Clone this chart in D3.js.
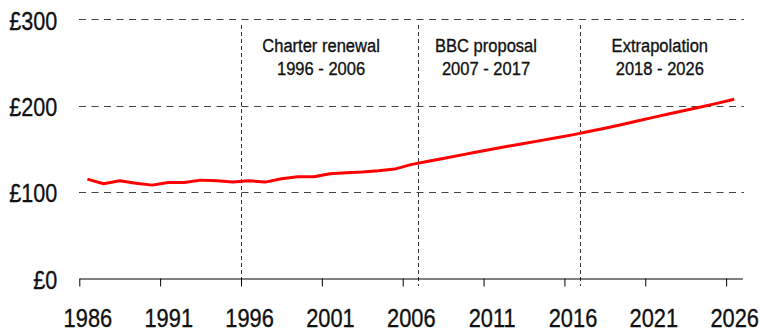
<!DOCTYPE html>
<html>
<head>
<meta charset="utf-8">
<script src="https://cdn.jsdelivr.net/npm/d3@7"></script>
<style>
  html, body { margin: 0; padding: 0; background: #fff; }
  svg { display: block; }
  text { font-family: "Liberation Sans", Arial, sans-serif; fill: #111; stroke: #111; stroke-width: 0.35px; }
</style>
</head>
<body>
<svg id="chart" width="760" height="333"></svg>
<script>
// ---- data ----
const years = d3.range(1986, 2027);
const fee = [
  114.7, 109.3, 112.7, 110.0, 107.7, 110.8, 110.8, 113.5, 112.7, 111.2,
  112.7, 111.2, 115.0, 117.3, 117.3, 120.8, 122.0, 122.8, 124.3, 126.3,
  131.5, 135.0, 138.6, 142.2, 145.8, 149.3, 152.7, 156.0, 159.3, 162.6,
  166.0, 169.8, 173.7, 177.8, 182.0, 186.3, 190.5, 194.5, 198.5, 202.8,
  207.3
];
const xTickYears = [1986, 1991, 1996, 2001, 2006, 2011, 2016, 2021, 2026];
const yTicks = [0, 100, 200, 300];
const gridValues = [100, 200, 300];
const dividerYears = [1996, 2006.92, 2016.95];
const periodTitles = ["Charter renewal", "BBC proposal", "Extrapolation"];
const periodRanges = ["1996 - 2006", "2007 - 2017", "2018 - 2026"];
const periodLabelAt = [2000.95, 2011.15, 2021.9];

// ---- layout ----
const svg = d3.select("#chart");
const x = d3.scaleLinear().domain([1986, 2027]).range([79.3, 742.3]);
const y = d3.scaleLinear().domain([0, 300]).range([278, 19.3]);
const half = (x(1987) - x(1986)) / 2;

// horizontal gridlines
svg.append("g").selectAll("line").data(gridValues).join("line")
  .attr("x1", 79).attr("x2", 744)
  .attr("y1", d => Math.round(y(d)) + 0.5).attr("y2", d => Math.round(y(d)) + 0.5)
  .attr("stroke", "#444").attr("stroke-width", 1)
  .attr("stroke-dasharray", "7,5.5");

// vertical dividers
svg.append("g").selectAll("line").data(dividerYears).join("line")
  .attr("x1", d => Math.round(x(d)) + 0.5).attr("x2", d => Math.round(x(d)) + 0.5)
  .attr("y1", 25).attr("y2", 286)
  .attr("stroke", "#333").attr("stroke-width", 1)
  .attr("stroke-dasharray", "4,3");

// period labels
const pl = svg.append("g").selectAll("g").data(periodTitles).join("g")
  .attr("transform", (d, i) => `translate(${x(periodLabelAt[i])},0)`);
pl.append("text").attr("transform", "translate(0,52) scale(0.87,1)")
  .attr("text-anchor", "middle")
  .style("font-size", "19px").text(d => d);
pl.append("text").attr("transform", "translate(0,75) scale(0.87,1)")
  .attr("text-anchor", "middle")
  .style("font-size", "19px").text((d, i) => periodRanges[i]);

// x axis
const xAxis = d3.axisBottom(x).tickValues(xTickYears)
  .tickSizeInner(8).tickSizeOuter(0).tickFormat(d3.format("d"));
const gx = svg.append("g").attr("transform", "translate(0,278.5)").call(xAxis);
gx.select(".domain").attr("stroke", "#000");
gx.selectAll(".tick line").attr("stroke", "#000");
gx.selectAll(".tick text")
  .attr("x", 0).attr("y", 0).attr("dy", 0)
  .attr("transform", `translate(${half},48.3) scale(0.84,1)`)
  .attr("text-anchor", "middle")
  .style("font-size", "26px").attr("fill", "#111");

// y axis labels
const yAxis = d3.axisLeft(y).tickValues(yTicks).tickSize(0).tickPadding(0)
  .tickFormat(d => "£" + d);
const gy = svg.append("g").attr("transform", "translate(57.3,0)").call(yAxis);
gy.select(".domain").remove();
gy.selectAll(".tick text").attr("x", 0).attr("dy", 0).attr("y", 0)
  .attr("transform", "translate(0,10) scale(0.83,1)")
  .attr("text-anchor", "end")
  .style("font-size", "26px").attr("fill", "#111");

// line
const line = d3.line().x((d, i) => x(years[i] + 0.5)).y(d => y(d));
svg.append("path").datum(fee)
  .attr("d", line)
  .attr("fill", "none").attr("stroke", "#ff0000")
  .attr("stroke-width", 3).attr("stroke-linejoin", "round");
</script>
</body>
</html>
